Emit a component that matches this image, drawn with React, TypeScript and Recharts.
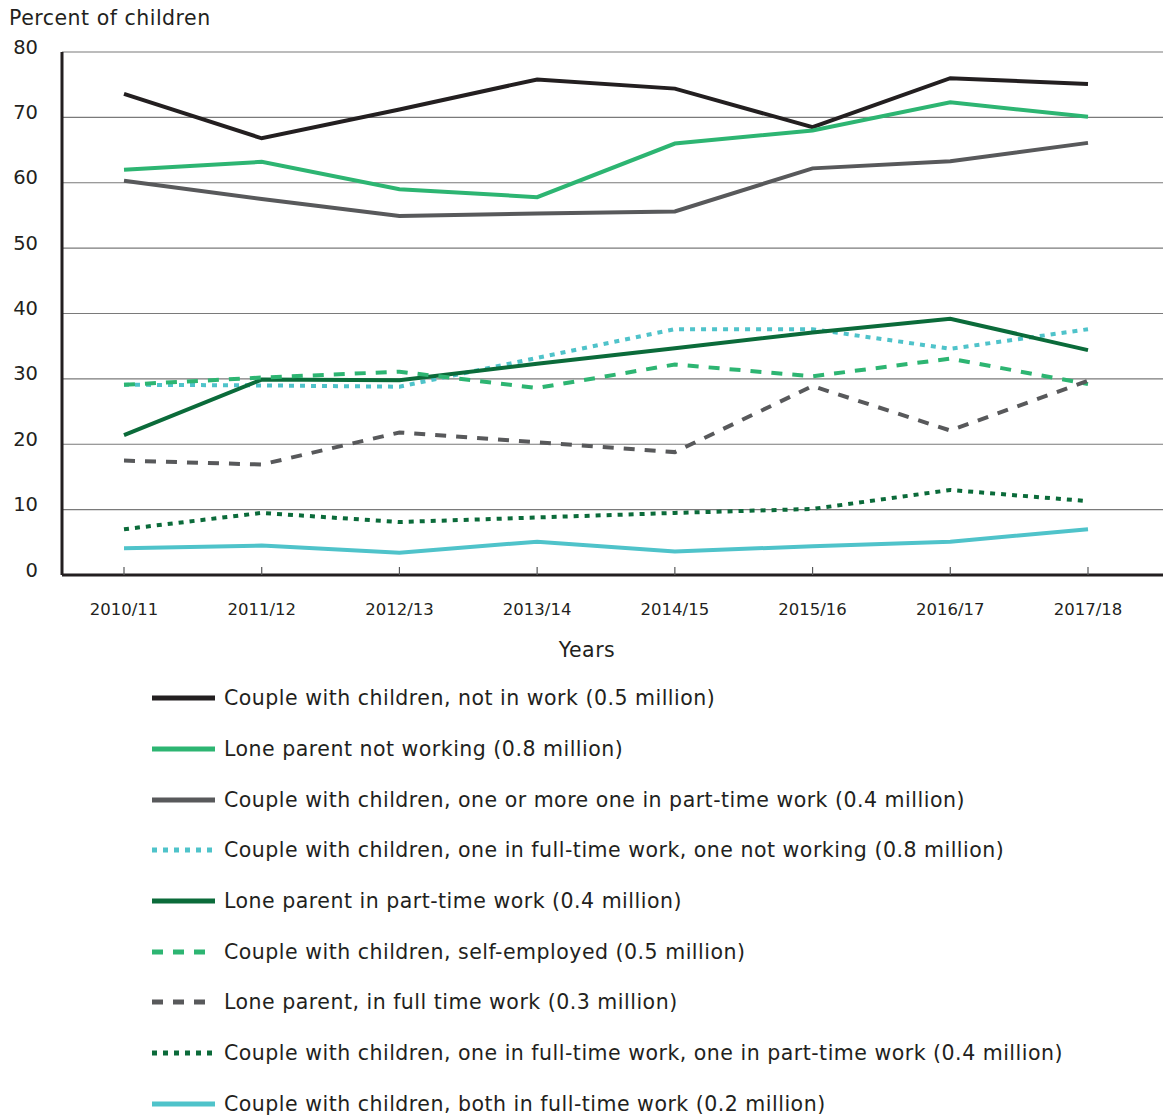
import { CartesianGrid, Legend, Line, LineChart, XAxis, YAxis } from "recharts"

const years = ["2010/11", "2011/12", "2012/13", "2013/14", "2014/15", "2015/16", "2016/17", "2017/18"]

const coupleNotInWork = [73.6, 66.8, 71.2, 75.8, 74.4, 68.5, 76.0, 75.1]
const loneNotWorking = [62.0, 63.2, 59.0, 57.8, 66.0, 68.0, 72.3, 70.1]
const couplePartTime = [60.3, 57.5, 54.9, 55.3, 55.6, 62.2, 63.3, 66.1]
const coupleOneFullOneNot = [29.1, 29.0, 28.8, 33.2, 37.6, 37.6, 34.6, 37.6]
const lonePartTime = [21.4, 29.9, 29.8, 32.3, 34.7, 37.1, 39.2, 34.4]
const coupleSelfEmployed = [29.1, 30.2, 31.1, 28.6, 32.2, 30.4, 33.1, 29.2]
const loneFullTime = [17.5, 16.9, 21.8, 20.3, 18.8, 28.9, 22.1, 29.7]
const coupleOneFullOnePart = [7.0, 9.5, 8.1, 8.8, 9.5, 10.1, 13.0, 11.3]
const coupleBothFullTime = [4.1, 4.5, 3.4, 5.1, 3.6, 4.4, 5.1, 7.0]

const yTicks = [0, 10, 20, 30, 40, 50, 60, 70, 80]

const FONT = "'DejaVu Sans', sans-serif"
const INK = "#231f20"

const series = [
  { key: "a", name: "Couple with children, not in work (0.5 million)", values: coupleNotInWork, color: "#231f20", dash: undefined },
  { key: "b", name: "Lone parent not working (0.8 million)", values: loneNotWorking, color: "#2db572", dash: undefined },
  { key: "c", name: "Couple with children, one or more one in part-time work (0.4 million)", values: couplePartTime, color: "#58595b", dash: undefined },
  { key: "d", name: "Couple with children, one in full-time work, one not working (0.8 million)", values: coupleOneFullOneNot, color: "#4fc3ca", dash: "5 6" },
  { key: "e", name: "Lone parent in part-time work (0.4 million)", values: lonePartTime, color: "#0b6b3a", dash: undefined },
  { key: "f", name: "Couple with children, self-employed (0.5 million)", values: coupleSelfEmployed, color: "#2db572", dash: "11 10" },
  { key: "g", name: "Lone parent, in full time work (0.3 million)", values: loneFullTime, color: "#58595b", dash: "11 10" },
  { key: "h", name: "Couple with children, one in full-time work, one in part-time work (0.4 million)", values: coupleOneFullOnePart, color: "#0b6b3a", dash: "5 6" },
  { key: "i", name: "Couple with children, both in full-time work (0.2 million)", values: coupleBothFullTime, color: "#4fc3ca", dash: undefined },
]

const data = years.map((year, i) => {
  const row: Record<string, string | number> = { year }
  series.forEach((s) => {
    row[s.key] = s.values[i]
  })
  return row
})

function YTick({ x, y, payload }: any) {
  return (
    <text x={x} y={y - 5} textAnchor="end" dominantBaseline="central" fill={INK} fontSize={19.5} fontFamily={FONT}>
      {payload.value}
    </text>
  )
}

function XTick({ x, y, payload }: any) {
  return (
    <g>
      <line x1={x} x2={x} y1={y - 8} y2={y} stroke="#58595b" strokeWidth={1.2} />
      <text x={x} y={y + 34} textAnchor="middle" dominantBaseline="central" fill={INK} fontSize={16.5} fontFamily={FONT}>
        {payload.value}
      </text>
    </g>
  )
}

function LegendRows() {
  return (
    <div style={{ fontFamily: FONT, color: INK }}>
      {series.map((s) => (
        <div key={s.key} style={{ display: "flex", alignItems: "center", height: 50.7 }}>
          <svg width={64} height={8} style={{ marginRight: 8 }}>
            <line x1={0} x2={63} y1={4} y2={4} stroke={s.color} strokeWidth={5} strokeDasharray={s.dash} />
          </svg>
          <span style={{ fontSize: 20.5, letterSpacing: 0.5 }}>{s.name}</span>
        </div>
      ))}
    </div>
  )
}

export default function App() {
  return (
    <div style={{ position: "relative", width: 1168, height: 1115, background: "#fff" }}>
      <style>{`body{margin:0}`}</style>
      <div style={{ position: "absolute", left: 9, top: 6, fontFamily: FONT, fontSize: 20.5, letterSpacing: 0.5, color: INK }}>
        Percent of children
      </div>
      <div style={{ position: "absolute", left: 0, width: 1174, top: 638, textAlign: "center", fontFamily: FONT, fontSize: 20.5, letterSpacing: 0.5, color: INK }}>
        Years
      </div>
      <LineChart width={1168} height={1115} data={data} margin={{ top: 52, right: 5, left: 0, bottom: 500 }}>
        <CartesianGrid horizontal vertical={false} stroke="#7a7a7a" strokeWidth={1.2} />
        <XAxis
          dataKey="year"
          height={40}
          padding={{ left: 62, right: 75 }}
          axisLine={{ stroke: INK, strokeWidth: 3 }}
          tickLine={false}
          tickSize={0}
          tickMargin={0}
          tick={<XTick />}
          interval={0}
        />
        <YAxis
          width={62}
          domain={[0, 80]}
          ticks={yTicks}
          axisLine={{ stroke: INK, strokeWidth: 3 }}
          tickLine={false}
          tickSize={0}
          tickMargin={24}
          tick={<YTick />}
        />
        <Legend
          verticalAlign="middle"
          align="center"
          content={() => <LegendRows />}
          wrapperStyle={{ top: 673, left: 152, width: 1010, height: 460 }}
        />
        {series.map((s) => (
          <Line
            key={s.key}
            dataKey={s.key}
            name={s.name}
            stroke={s.color}
            strokeWidth={4}
            strokeDasharray={s.dash}
            dot={false}
            activeDot={false}
            type="linear"
            isAnimationActive={false}
          />
        ))}
      </LineChart>
    </div>
  )
}
